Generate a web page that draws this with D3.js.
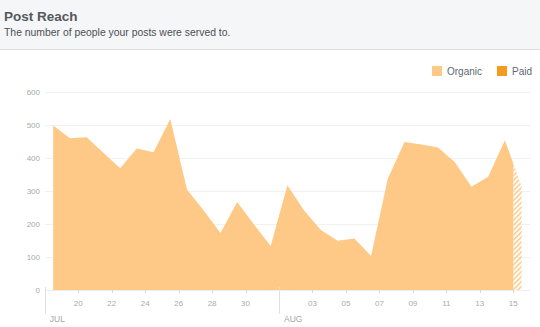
<!DOCTYPE html>
<html>
<head>
<meta charset="utf-8">
<script src="https://cdn.jsdelivr.net/npm/d3@7"></script>
<style>
  body { margin: 0; background: #fff; }
  svg { display: block; font-family: "Liberation Sans", Arial, sans-serif; }
</style>
</head>
<body>
<svg width="540" height="327"></svg>
<script>

// one value per day, Jul 18 .. Aug 15 (last day is still partial)
var days = ["2017-07-18","2017-07-19","2017-07-20","2017-07-21","2017-07-22","2017-07-23",
            "2017-07-24","2017-07-25","2017-07-26","2017-07-27","2017-07-28","2017-07-29",
            "2017-07-30","2017-07-31","2017-08-01","2017-08-02","2017-08-03","2017-08-04",
            "2017-08-05","2017-08-06","2017-08-07","2017-08-08","2017-08-09","2017-08-10",
            "2017-08-11","2017-08-12","2017-08-13","2017-08-14","2017-08-15"];
var organic = [497, 459, 462, 415, 368, 428, 416, 517, 304, 240, 172, 266,
               198, 133, 317, 240, 181, 149, 156, 103, 336, 447, 440, 431,
               387, 312, 342, 453, 313];
var yTicks = [0, 100, 200, 300, 400, 500, 600];
var julTicks = ["2017-07-20","2017-07-22","2017-07-24","2017-07-26","2017-07-28","2017-07-30"];
var augTicks = ["2017-08-03","2017-08-05","2017-08-07","2017-08-09","2017-08-11","2017-08-13","2017-08-15"];
var months = [{label: "JUL", date: "2017-07-18"}, {label: "AUG", date: "2017-08-01"}];
var legendItems = [{name: "Organic", color: "#fec986"}, {name: "Paid", color: "#f49a1e"}];
var partialFrom = "2017-08-15";

var parse = d3.utcParse("%Y-%m-%d");

var data = days.map(function(d, i) {
  // points sit at the middle of each day
  return {date: d3.utcHour.offset(parse(d), 12), value: organic[i]};
});

var svg = d3.select("svg");

// header
svg.append("rect")
  .attr("width", 540).attr("height", 49)
  .attr("fill", "#f5f6f7");
svg.append("line")
  .attr("x1", 0).attr("x2", 540)
  .attr("y1", 49.5).attr("y2", 49.5)
  .attr("stroke", "#dddfe2");
svg.append("text")
  .attr("x", 4).attr("y", 21)
  .attr("font-size", "13.5px")
  .attr("font-weight", "bold")
  .attr("fill", "#55585e")
  .text("Post Reach");
svg.append("text")
  .attr("x", 4).attr("y", 36)
  .attr("font-size", "10.4px")
  .attr("fill", "#4b4f56")
  .text("The number of people your posts were served to.");

var xScale = d3.scaleUtc()
  .domain([parse("2017-07-18"), parse("2017-08-16")])
  .range([44.8, 530]);

var yScale = d3.scaleLinear()
  .domain([0, 600])
  .range([290, 91.5]);

// grid
svg.append("g")
  .selectAll("line")
  .data(yTicks)
  .enter()
  .append("line")
  .attr("x1", 44.8).attr("x2", 530)
  .attr("y1", function(d){ return Math.round(yScale(d)) + 0.5; })
  .attr("y2", function(d){ return Math.round(yScale(d)) + 0.5; })
  .attr("stroke", "#f1f1f1");

svg.append("g")
  .selectAll("text")
  .data(yTicks)
  .enter()
  .append("text")
  .attr("x", 40)
  .attr("y", function(d){ return yScale(d) + 3; })
  .attr("text-anchor", "end")
  .attr("font-size", "8px")
  .attr("fill", "#aaaaaa")
  .text(function(d){ return d; });

// hatch for the partial day
var defs = svg.append("defs");
defs.append("pattern")
  .attr("id", "hatch")
  .attr("patternUnits", "userSpaceOnUse")
  .attr("width", 3.5).attr("height", 3.5)
  .attr("patternTransform", "rotate(45)")
  .append("rect")
  .attr("width", 1.5).attr("height", 3.5)
  .attr("fill", "#fec986");

var cut = xScale(parse(partialFrom));
defs.append("clipPath").attr("id", "done")
  .append("rect")
  .attr("x", 0).attr("y", 0).attr("width", cut).attr("height", 327);
defs.append("clipPath").attr("id", "partial")
  .append("rect")
  .attr("x", cut).attr("y", 0).attr("width", 540 - cut).attr("height", 327);

var area = d3.area()
  .x(function(d){ return xScale(d.date); })
  .y0(yScale(0))
  .y1(function(d){ return yScale(d.value); });

svg.append("path")
  .datum(data)
  .attr("clip-path", "url(#done)")
  .attr("fill", "#fec986")
  .attr("d", area);

svg.append("path")
  .datum(data)
  .attr("clip-path", "url(#partial)")
  .attr("fill", "url(#hatch)")
  .attr("d", area);

// x axis
var xAxis = svg.append("g");

xAxis.append("line")
  .attr("x1", 44.8).attr("x2", 530)
  .attr("y1", 290.5).attr("y2", 290.5)
  .attr("stroke", "#eeeeee");

var tickDates = julTicks.concat(augTicks).map(parse);

xAxis.selectAll(".tick")
  .data(tickDates)
  .enter()
  .append("line")
  .attr("class", "tick")
  .attr("x1", function(d){ return Math.round(xScale(d)) + 0.5; })
  .attr("x2", function(d){ return Math.round(xScale(d)) + 0.5; })
  .attr("y1", 290).attr("y2", 293)
  .attr("stroke", "#d8d8d8");

xAxis.selectAll(".lbl")
  .data(tickDates)
  .enter()
  .append("text")
  .attr("class", "lbl")
  .attr("x", function(d){ return xScale(d); })
  .attr("y", 306)
  .attr("text-anchor", "middle")
  .attr("font-size", "8px")
  .attr("fill", "#aaaaaa")
  .text(function(d){ return d3.utcFormat("%d")(d); });

xAxis.selectAll(".month")
  .data(months)
  .enter()
  .append("line")
  .attr("class", "month")
  .attr("x1", function(d){ return Math.round(xScale(parse(d.date))) + 0.5; })
  .attr("x2", function(d){ return Math.round(xScale(parse(d.date))) + 0.5; })
  .attr("y1", 287).attr("y2", 314)
  .attr("stroke", "#e0e0e0");

xAxis.selectAll(".mlbl")
  .data(months)
  .enter()
  .append("text")
  .attr("class", "mlbl")
  .attr("x", function(d){ return xScale(parse(d.date)) + 5; })
  .attr("y", 321.5)
  .attr("font-size", "8.5px")
  .attr("fill", "#a5a5a5")
  .text(function(d){ return d.label; });

// legend
var legend = svg.append("g");
var lx = [432, 497];

legend.selectAll("rect")
  .data(legendItems)
  .enter()
  .append("rect")
  .attr("x", function(d, i){ return lx[i]; })
  .attr("y", 66)
  .attr("width", 10).attr("height", 10)
  .attr("fill", function(d){ return d.color; });

legend.selectAll("text")
  .data(legendItems)
  .enter()
  .append("text")
  .attr("x", function(d, i){ return lx[i] + 15; })
  .attr("y", 75)
  .attr("font-size", "10px")
  .attr("fill", "#606770")
  .text(function(d){ return d.name; });

</script>
</body>
</html>
